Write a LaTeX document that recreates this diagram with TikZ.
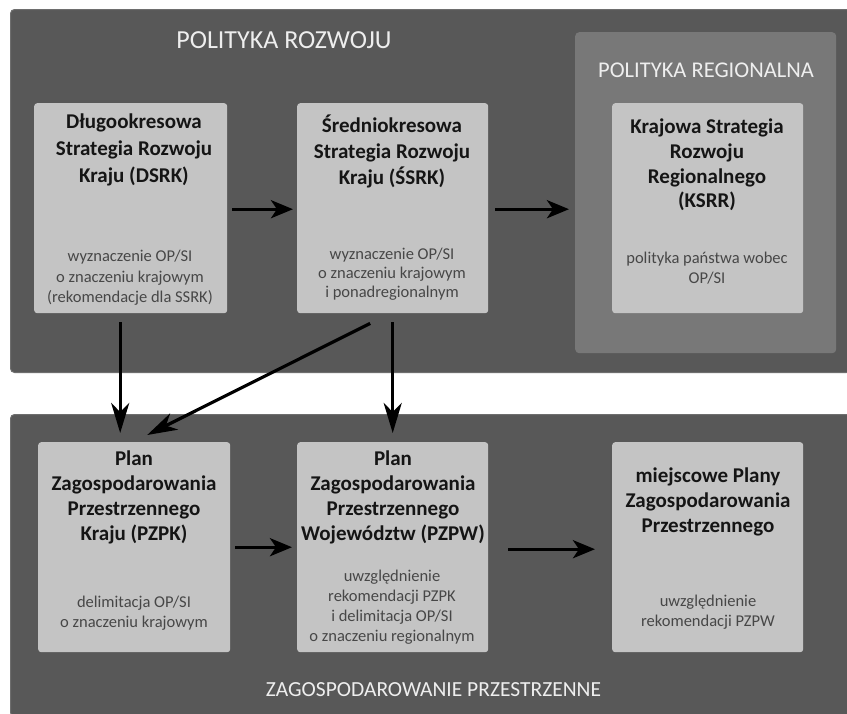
\documentclass[tikz,border=0pt]{standalone}
\usepackage{fontspec}
\setmainfont{Carlito}
\usetikzlibrary{arrows.meta}
\definecolor{panelc}{HTML}{585858}
\definecolor{panelb}{HTML}{6E6E6E}
\definecolor{regc}{HTML}{787878}
\definecolor{boxc}{HTML}{C4C4C4}
\definecolor{ttlc}{HTML}{151515}
\definecolor{subc}{HTML}{474747}
\definecolor{headc}{HTML}{EEEEEE}
\tikzset{
  panel/.style={fill=panelc, draw=panelb, line width=1pt, rounded corners=4pt, anchor=north west, inner sep=0pt},
  regpanel/.style={fill=regc, draw=none, rounded corners=4pt, anchor=north west, inner sep=0pt},
  box/.style={fill=boxc, draw=none, rounded corners=3pt, anchor=north west, inner sep=0pt},
  ttl/.style={align=center, text=ttlc, inner sep=0pt, font=\bfseries\fontsize{21}{25.5}\selectfont},
  sub/.style={align=center, text=subc, inner sep=0pt, font=\fontsize{16.5}{20}\selectfont},
  head/.style={text=headc, inner sep=0pt},
  harr/.style={line width=3.4pt, -{Stealth[length=22pt,width=18pt,inset=6pt]}},
  varr/.style={line width=3.2pt, -{Stealth[length=30pt,width=18pt,inset=9pt]}}
}
\begin{document}
\begin{tikzpicture}[x=1pt,y=1pt]
\useasboundingbox (0,0) rectangle (847,-713);
\fill[white] (0,0) rectangle (847,-713);
% panels
\node[panel, minimum width=840, minimum height=363] (toppanel) at (10,-9) {};
\node[panel, minimum width=840, minimum height=302] (botpanel) at (10,-414) {};
\node[regpanel, minimum width=261, minimum height=321] (reg) at (575,-32) {};
% headings
\node[head, font=\fontsize{26}{30}\selectfont] (h1) at (284,-40) {POLITYKA ROZWOJU};
\node[head, font=\fontsize{22.5}{26}\selectfont] (h2) at (706,-70) {POLITYKA REGIONALNA};
\node[head, font=\fontsize{21.5}{25}\selectfont] (h3) at (433.5,-690) {ZAGOSPODAROWANIE PRZESTRZENNE};
% boxes
\node[box, minimum width=193, minimum height=210] (dsrk) at (34,-103) {};
\node[box, minimum width=191, minimum height=210] (ssrk) at (297,-103) {};
\node[box, minimum width=191, minimum height=210] (ksrr) at (612,-103) {};
\node[box, minimum width=192, minimum height=210] (pzpk) at (38,-442) {};
\node[box, minimum width=191, minimum height=210] (pzpw) at (297,-442) {};
\node[box, minimum width=191, minimum height=210] (mpzp) at (612,-442) {};
% texts
\node[ttl, font=\bfseries\fontsize{21}{27}\selectfont] (t1) at (134,-150) {Długookresowa\\Strategia Rozwoju\\Kraju (DSRK)};
\node[sub, font=\fontsize{16.5}{20.5}\selectfont] (s1) at (130,-278) {wyznaczenie OP/SI\\o znaczeniu krajowym\\(rekomendacje dla SSRK)};
\node[ttl, font=\bfseries\fontsize{21}{26}\selectfont] (t2) at (392,-151) {Średniokresowa\\Strategia Rozwoju\\Kraju (ŚSRK)};
\node[sub, font=\fontsize{16.5}{19}\selectfont] (s2) at (392,-274) {wyznaczenie OP/SI\\o znaczeniu krajowym\\i ponadregionalnym};
\node[ttl, font=\bfseries\fontsize{21}{24.7}\selectfont] (t3) at (707,-165) {Krajowa Strategia\\Rozwoju\\Regionalnego\\(KSRR)};
\node[sub] (s3) at (707,-268) {polityka państwa wobec\\OP/SI};
\node[ttl, font=\bfseries\fontsize{21}{25}\selectfont] (t4) at (134,-497) {Plan\\Zagospodarowania\\Przestrzennego\\Kraju (PZPK)};
\node[sub] (s4) at (134,-613) {delimitacja OP/SI\\o znaczeniu krajowym};
\node[ttl, font=\bfseries\fontsize{21}{25}\selectfont] (t5) at (393,-497) {Plan\\Zagospodarowania\\Przestrzennego\\Województw (PZPW)};
\node[sub] (s5) at (392,-607) {uwzględnienie\\rekomendacji PZPK\\i delimitacja OP/SI\\o znaczeniu regionalnym};
\node[ttl, font=\bfseries\fontsize{21}{25}\selectfont] (t6) at (708,-502) {miejscowe Plany\\Zagospodarowania\\Przestrzennego};
\node[sub] (s6) at (708,-612) {uwzględnienie\\rekomendacji PZPW};
% arrows
\coordinate (regin) at (reg.west |- ssrk.east);
\draw[harr] ([shift={(5pt,-1pt)}]dsrk.east) -- ([shift={(-4pt,-1pt)}]ssrk.west);
\draw[harr] ([shift={(7pt,-1pt)}]ssrk.east) -- ([shift={(-6pt,-1pt)}]regin);
\draw[varr] ([shift={(-10.5pt,-9pt)}]dsrk.south) -- ([shift={(-14pt,9pt)}]pzpk.north);
\draw[varr] ([yshift=-9pt]ssrk.south) -- ([yshift=9pt]pzpw.north);
\draw[varr] ([shift={(-22.5pt,-10pt)}]ssrk.south) -- ([shift={(13pt,7pt)}]pzpk.north);
\draw[harr] ([xshift=5pt]pzpk.east) -- ([xshift=-5pt]pzpw.west);
\draw[harr] ([shift={(20pt,-2pt)}]pzpw.east) -- ([shift={(-17pt,-2pt)}]mpzp.west);
\end{tikzpicture}
\end{document}
